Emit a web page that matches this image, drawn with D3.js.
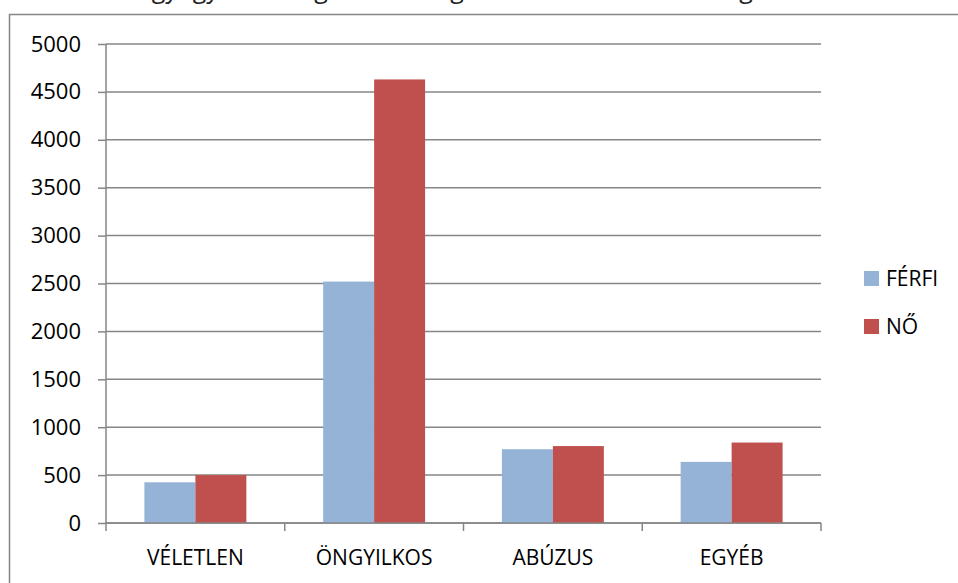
<!DOCTYPE html>
<html><head><meta charset="utf-8">
<script src="https://cdn.jsdelivr.net/npm/d3@7"></script>
<style>body{margin:0;background:#fff}svg{display:block}</style>
</head><body>
<svg id="c" width="958" height="583"></svg>
<script>
(function(){
const categories = ["VÉLETLEN", "ÖNGYILKOS", "ABÚZUS", "EGYÉB"];
const seriesNames = ["FÉRFI", "NŐ"];
const ferfi = [425, 2520, 770, 638];
const no = [500, 4630, 803, 840];
const yTicks = [0, 500, 1000, 1500, 2000, 2500, 3000, 3500, 4000, 4500, 5000];
const titleText = "Akut gyógyszermérgezések megoszlása nemek és etiológia szerint";

const colors = ["#95B3D7", "#C0504D"];
const font = "'Open Sans', sans-serif";
const svg = d3.select("#c");

svg.append("text").attr("x", 475).attr("y", -2).attr("text-anchor", "middle")
  .attr("font-family", font).attr("font-size", 25).attr("fill", "#222").text(titleText);

svg.append("rect").attr("x", 9.5).attr("y", 14.5).attr("width", 980).attr("height", 600)
  .attr("fill", "none").attr("stroke", "#868686").attr("stroke-width", 1.5);

const pLeft = 106, pRight = 821, pTop = 44, pBottom = 523;
const y = d3.scaleLinear().domain([0, 5000]).range([pBottom, pTop]);
const x0 = d3.scaleBand().domain(categories).range([pLeft, pRight]).paddingInner(0).paddingOuter(0);
const x1 = d3.scaleBand().domain(seriesNames).range([38.4, x0.bandwidth() - 38.4]).padding(0);

svg.append("g").selectAll("line").data(yTicks).join("line")
  .attr("x1", pLeft).attr("x2", pRight).attr("y1", d => y(d)).attr("y2", d => y(d))
  .attr("stroke", "#868686").attr("stroke-width", 1.5);

const data = categories.map((c, i) => ({c, vals: [ferfi[i], no[i]]}));
svg.append("g").selectAll("g").data(data).join("g")
  .attr("transform", d => `translate(${x0(d.c)},0)`)
  .selectAll("rect").data(d => d.vals.map((v, j) => ({v, s: seriesNames[j], j})))
  .join("rect")
  .attr("x", d => x1(d.s)).attr("width", x1.bandwidth())
  .attr("y", d => y(d.v)).attr("height", d => y(0) - y(d.v))
  .attr("fill", d => colors[d.j]);

const yAxis = d3.axisLeft(y).tickValues(yTicks).tickSize(8).tickPadding(17).tickFormat(d3.format("d"));
const ga = svg.append("g").attr("transform", `translate(${pLeft},0)`).call(yAxis);
ga.select(".domain").attr("stroke", "#868686").attr("stroke-width", 1.5).attr("d", `M0,${pTop}V${pBottom}`);
ga.selectAll(".tick line").attr("stroke", "#868686").attr("stroke-width", 1.5);
ga.selectAll("text").attr("font-family", font).attr("font-size", 22).attr("fill", "#000");

const xAxis = d3.axisBottom(x0).tickSize(0).tickPadding(27);
const gx = svg.append("g").attr("transform", `translate(0,${pBottom})`).call(xAxis);
gx.select(".domain").attr("stroke", "#868686").attr("stroke-width", 1.5).attr("d", `M${pLeft},0H${pRight}`);
gx.selectAll("text").attr("font-family", font).attr("font-size", 21).attr("fill", "#000");
const bounds = categories.map(c => x0(c)).concat([pRight]);
svg.append("g").selectAll("line").data(bounds).join("line")
  .attr("x1", d => d).attr("x2", d => d).attr("y1", pBottom).attr("y2", pBottom + 8)
  .attr("stroke", "#868686").attr("stroke-width", 1.5);

const lg = svg.append("g").selectAll("g").data(seriesNames).join("g")
  .attr("transform", (d, i) => `translate(864,${271 + i * 48})`);
lg.append("rect").attr("width", 15).attr("height", 15).attr("fill", (d, i) => colors[i]);
lg.append("text").attr("x", 22).attr("y", 8).attr("dy", "0.35em")
  .attr("font-family", font).attr("font-size", 21).attr("fill", "#000").text(d => d);
})();
</script>
</body></html>
